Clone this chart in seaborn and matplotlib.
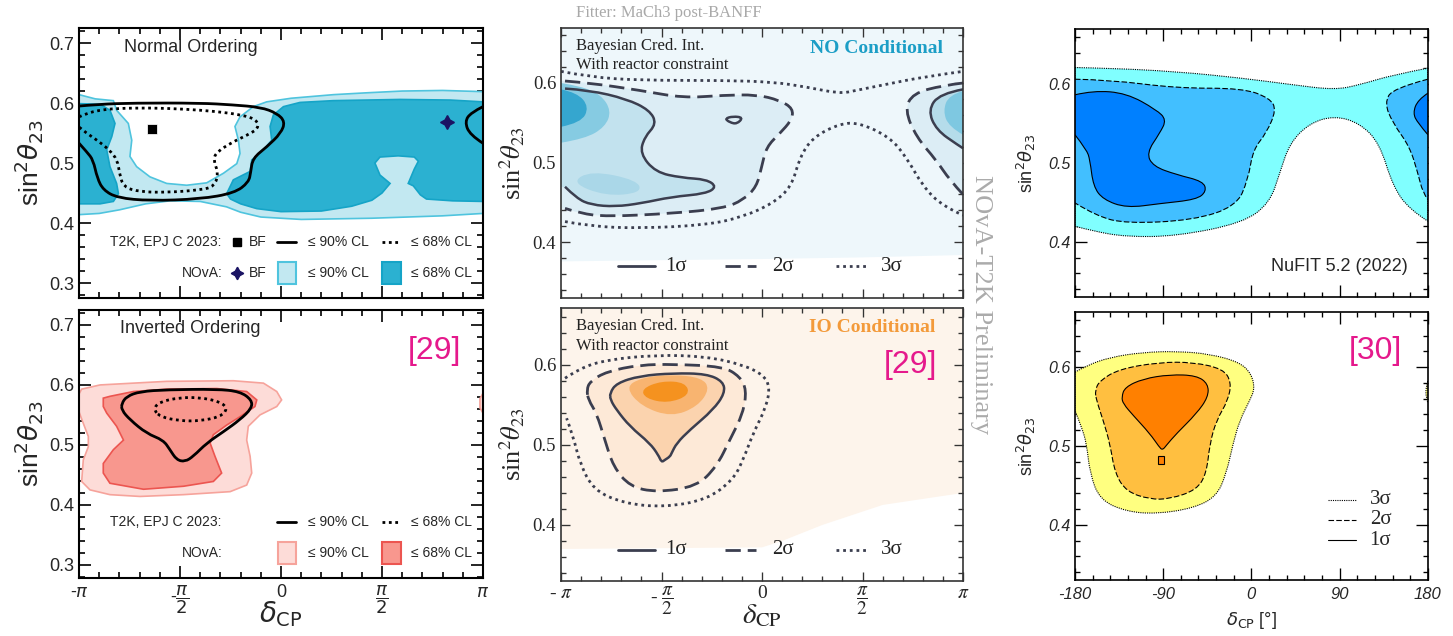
import numpy as np
import matplotlib
matplotlib.use("Agg")
import matplotlib.pyplot as plt
from matplotlib.path import Path
from matplotlib.patches import PathPatch, Polygon, Rectangle
from matplotlib.ticker import MultipleLocator
import seaborn as sns

# ---------------- data ----------------
# left column: delta_CP in units of pi, sin^2 theta_23
# NO, NOvA 90% region (the white hole is open to the top)
no_nova90 = [(-1.0, 0.614), (-0.92, 0.607), (-0.83, 0.604), (-0.814, 0.588), (-0.756, 0.566),
             (-0.739, 0.538), (-0.748, 0.511), (-0.715, 0.494), (-0.649, 0.477), (-0.566, 0.466),
             (-0.467, 0.463), (-0.368, 0.467), (-0.285, 0.483), (-0.219, 0.499), (-0.203, 0.516),
             (-0.211, 0.538), (-0.228, 0.561), (-0.203, 0.577), (-0.137, 0.594), (-0.071, 0.602),
             (0.05, 0.608), (0.26, 0.614), (0.42, 0.617), (0.6, 0.62), (0.8, 0.621), (1.0, 0.619),
             (1.0, 0.416), (0.8, 0.412), (0.45, 0.408), (0.1, 0.406), (-0.1, 0.41), (-0.2, 0.418),
             (-0.27, 0.427), (-0.4, 0.436), (-0.55, 0.437), (-0.67, 0.432), (-0.8, 0.422),
             (-0.9, 0.416), (-1.0, 0.414)]
no_nova68_left = [(-1.0, 0.599), (-0.896, 0.598), (-0.847, 0.588), (-0.822, 0.566), (-0.838, 0.544),
                  (-0.863, 0.522), (-0.847, 0.494), (-0.814, 0.466), (-0.805, 0.449), (-0.83, 0.436),
                  (-0.896, 0.432), (-1.0, 0.432)]
no_nova68_right = [(-0.269, 0.449), (-0.236, 0.472), (-0.153, 0.486), (-0.145, 0.505), (-0.087, 0.522),
                   (-0.046, 0.538), (-0.054, 0.561), (-0.038, 0.58), (0.012, 0.594), (0.094, 0.601),
                   (0.259, 0.604), (0.589, 0.606), (0.837, 0.605), (1.0, 0.602), (1.0, 0.436),
                   (0.85, 0.437), (0.72, 0.44), (0.69, 0.447), (0.655, 0.462), (0.63, 0.466),
                   (0.66, 0.49), (0.68, 0.503), (0.66, 0.51), (0.58, 0.512), (0.49, 0.51),
                   (0.465, 0.5), (0.49, 0.48), (0.54, 0.466), (0.5, 0.45), (0.45, 0.438),
                   (0.35, 0.428), (0.2, 0.42), (0.0, 0.419), (-0.12, 0.424), (-0.2, 0.432), (-0.25, 0.44)]
no_t2k90 = [(-1.0, 0.595), (-0.9, 0.598), (-0.73, 0.6), (-0.4, 0.6), (-0.24, 0.597), (-0.10, 0.593),
            (-0.02, 0.583), (0.02, 0.569), (0.0, 0.55), (-0.07, 0.527), (-0.14, 0.508), (-0.15, 0.485),
            (-0.16, 0.468), (-0.23, 0.45), (-0.4, 0.44), (-0.65, 0.437), (-0.81, 0.442), (-0.88, 0.455),
            (-0.91, 0.475), (-0.93, 0.505), (-0.96, 0.518), (-1.0, 0.533)]
no_t2k90_wrap = [(1.0, 0.594), (0.94, 0.584), (0.91, 0.569), (0.935, 0.547), (1.0, 0.533)]
no_t2k68 = [(-1.0, 0.577), (-0.96, 0.583), (-0.9, 0.588), (-0.82, 0.591), (-0.65, 0.592), (-0.48, 0.59),
            (-0.32, 0.586), (-0.19, 0.58), (-0.12, 0.572), (-0.11, 0.558), (-0.17, 0.546), (-0.24, 0.535),
            (-0.32, 0.518), (-0.335, 0.505), (-0.31, 0.483), (-0.33, 0.461), (-0.4, 0.455), (-0.566, 0.451),
            (-0.7, 0.452), (-0.78, 0.46), (-0.8, 0.483), (-0.81, 0.505), (-0.85, 0.522), (-0.91, 0.538),
            (-0.96, 0.549), (-1.0, 0.56)]
t2k_bf = (-0.637, 0.556)
nova_bf = (0.82, 0.568)

# IO, left column
io_nova90 = [(-1.0, 0.585), (-0.987, 0.593), (-0.896, 0.6), (-0.566, 0.606), (-0.236, 0.607),
             (-0.087, 0.603), (-0.021, 0.589), (0.003, 0.575), (-0.021, 0.564), (-0.104, 0.55),
             (-0.162, 0.531), (-0.17, 0.508), (-0.153, 0.481), (-0.145, 0.453), (-0.17, 0.433),
             (-0.252, 0.422), (-0.483, 0.417), (-0.698, 0.414), (-0.847, 0.417), (-0.946, 0.425),
             (-0.987, 0.439), (-0.979, 0.475), (-0.954, 0.497), (-0.954, 0.514), (-0.979, 0.536),
             (-1.0, 0.555)]
io_nova90_wrap = [(1.0, 0.586), (0.985, 0.577), (0.985, 0.562), (1.0, 0.553)]
io_nova68 = [(-0.88, 0.578), (-0.847, 0.581), (-0.731, 0.589), (-0.566, 0.593), (-0.318, 0.594),
             (-0.17, 0.589), (-0.12, 0.575), (-0.129, 0.564), (-0.203, 0.547), (-0.269, 0.533),
             (-0.335, 0.517), (-0.351, 0.503), (-0.327, 0.481), (-0.294, 0.453), (-0.335, 0.439),
             (-0.483, 0.431), (-0.681, 0.426), (-0.847, 0.436), (-0.88, 0.453), (-0.88, 0.469),
             (-0.83, 0.492), (-0.78, 0.508), (-0.814, 0.531), (-0.863, 0.553), (-0.88, 0.564)]
io_t2k90 = [(-0.789, 0.569), (-0.764, 0.581), (-0.698, 0.589), (-0.566, 0.592), (-0.318, 0.593),
            (-0.203, 0.589), (-0.145, 0.575), (-0.145, 0.561), (-0.203, 0.542), (-0.285, 0.522),
            (-0.368, 0.503), (-0.434, 0.481), (-0.475, 0.472), (-0.517, 0.475), (-0.55, 0.492),
            (-0.583, 0.508), (-0.665, 0.519), (-0.748, 0.542), (-0.789, 0.558)]
io_t2k68 = [(-0.632, 0.56), (-0.6, 0.572), (-0.5, 0.579), (-0.4, 0.579), (-0.3, 0.572), (-0.264, 0.56),
            (-0.3, 0.547), (-0.4, 0.54), (-0.5, 0.54), (-0.6, 0.547)]

# middle column (joint fit), delta_CP in units of pi
mno_3s_top = [(-1.0, 0.6146), (-0.856, 0.6075), (-0.607, 0.6033), (-0.193, 0.6033), (0.055, 0.6013),
              (0.221, 0.595), (0.387, 0.5866), (0.47, 0.5908), (0.635, 0.5992), (0.801, 0.6075),
              (1.0, 0.6146)]
mno_3s_bot = [(-0.98, 0.426), (-0.856, 0.42), (-0.607, 0.4175), (-0.276, 0.4217), (-0.094, 0.432),
              (0.055, 0.449), (0.147, 0.47), (0.188, 0.507), (0.254, 0.532), (0.387, 0.549),
              (0.486, 0.55), (0.635, 0.532), (0.718, 0.507), (0.801, 0.47), (0.9, 0.445), (1.0, 0.434)]
mno_2s = [(-0.98, 0.6025), (-0.856, 0.6), (-0.607, 0.5908), (-0.392, 0.5812), (-0.193, 0.5846),
          (-0.027, 0.5854), (0.088, 0.5783), (0.155, 0.5678), (0.147, 0.5532), (0.088, 0.5366),
          (0.022, 0.5198), (-0.002, 0.4946), (-0.027, 0.4697), (-0.094, 0.453), (-0.193, 0.4426),
          (-0.442, 0.4363), (-0.773, 0.4322), (-0.905, 0.4363), (-0.98, 0.4426)]
mno_2s_right = [(1.0, 0.6), (0.9, 0.597), (0.75, 0.587), (0.71, 0.566), (0.768, 0.532), (0.867, 0.503),
                (0.934, 0.478), (1.0, 0.46)]
mno_1s = [(-0.98, 0.593), (-0.86, 0.591), (-0.674, 0.58), (-0.56, 0.566), (-0.524, 0.549),
          (-0.585, 0.532), (-0.607, 0.5115), (-0.53, 0.488), (-0.40, 0.481), (-0.276, 0.479),
          (-0.225, 0.4697), (-0.28, 0.461), (-0.45, 0.457), (-0.6, 0.449), (-0.73, 0.4447),
          (-0.85, 0.447), (-0.922, 0.4551), (-0.98, 0.4697)]
mno_1s_island = [(-0.185, 0.5553), (-0.144, 0.5582), (-0.094, 0.5566), (-0.125, 0.5485), (-0.16, 0.5505)]
mno_1s_right = [(1.0, 0.592), (0.884, 0.5866), (0.826, 0.566), (0.867, 0.541), (0.975, 0.522), (1.0, 0.518)]
# posterior shading levels (lightest -> darkest)
mno_bg = [(-1.0, 0.67), (1.0, 0.67), (1.0, 0.384), (0.5, 0.381), (0.0, 0.379), (-1.0, 0.376)]
mno_core = [(-1.0, 0.6), (-0.9, 0.596), (-0.8, 0.585), (-0.75, 0.565), (-0.78, 0.545), (-0.88, 0.53), (-1.0, 0.525)]
mno_peak = [(-1.0, 0.592), (-0.92, 0.588), (-0.86, 0.57), (-0.9, 0.55), (-1.0, 0.545)]
mno_core_r = [(1.0, 0.59), (0.93, 0.585), (0.9, 0.565), (0.93, 0.545), (1.0, 0.535)]
mno_low = [(-0.95, 0.475), (-0.78, 0.458), (-0.6, 0.462), (-0.62, 0.478), (-0.85, 0.49)]

mio_3s = [(-0.98, 0.5833), (-0.906, 0.5958), (-0.773, 0.6063), (-0.524, 0.6125), (-0.276, 0.6104),
          (-0.094, 0.6), (0.006, 0.5875), (0.039, 0.5729), (0.022, 0.5479), (-0.044, 0.5146),
          (-0.094, 0.4813), (-0.144, 0.4563), (-0.276, 0.4313), (-0.491, 0.4221), (-0.69, 0.4271),
          (-0.839, 0.4438), (-0.906, 0.4771), (-0.939, 0.5104), (-0.972, 0.5333)]
mio_2s = [(-0.872, 0.5688), (-0.856, 0.5792), (-0.773, 0.5917), (-0.607, 0.6), (-0.442, 0.6008),
          (-0.193, 0.5979), (-0.11, 0.5854), (-0.077, 0.5688), (-0.094, 0.5396), (-0.16, 0.5063),
          (-0.226, 0.4729), (-0.326, 0.4479), (-0.524, 0.4408), (-0.657, 0.4479), (-0.74, 0.4729),
          (-0.782, 0.5063), (-0.823, 0.5396), (-0.864, 0.5563)]
mio_1s = [(-0.757, 0.5646), (-0.724, 0.5771), (-0.607, 0.5863), (-0.442, 0.5896), (-0.276, 0.5888),
          (-0.193, 0.5792), (-0.185, 0.5646), (-0.243, 0.5438), (-0.359, 0.5188), (-0.425, 0.5021),
          (-0.45, 0.4896), (-0.458, 0.4854), (-0.483, 0.4813), (-0.5, 0.4783), (-0.516, 0.4875),
          (-0.558, 0.5021), (-0.657, 0.5229), (-0.724, 0.5438), (-0.754, 0.5563)]
mio_bg = [(-1.0, 0.67), (1.0, 0.67), (1.0, 0.44), (0.6, 0.425), (0.3, 0.4), (0.1, 0.38), (0.0, 0.372), (-1.0, 0.37)]
mio_core = [(-0.68, 0.572), (-0.6, 0.584), (-0.45, 0.588), (-0.3, 0.584), (-0.26, 0.57), (-0.32, 0.548),
            (-0.45, 0.535), (-0.6, 0.548)]
mio_peak = [(-0.6, 0.57), (-0.5, 0.58), (-0.38, 0.578), (-0.36, 0.562), (-0.47, 0.552), (-0.58, 0.558)]

# right column (NuFIT), delta_CP in degrees
rno_3s = [(-180, 0.6211), (-144.3, 0.6203), (-76.4, 0.616), (-8.5, 0.6076), (42.4, 0.5992), (84.9, 0.5928),
          (110.4, 0.5992), (144.3, 0.6118), (180, 0.6203), (180, 0.4262), (161.3, 0.4409), (144.3, 0.4705),
          (130.7, 0.5253), (110.4, 0.5506), (84.9, 0.5599), (59.4, 0.5506), (39.1, 0.5253), (28.9, 0.4873),
          (18.7, 0.4494), (-8.5, 0.424), (-76.4, 0.4072), (-127.4, 0.4063), (-161.3, 0.4135), (-180, 0.4198)]
rno_2s = [(-180, 0.6063), (-144.3, 0.6055), (-76.4, 0.5949), (-8.5, 0.5949), (18.7, 0.5823), (25.5, 0.5675),
          (15.3, 0.538), (1.7, 0.5169), (-3.4, 0.4789), (-15.3, 0.4451), (-59.4, 0.4274), (-127.4, 0.4232),
          (-158.0, 0.4325), (-180, 0.4494)]
rno_2s_right = [(180, 0.6063), (144.3, 0.5949), (135.8, 0.576), (144.3, 0.5506), (161.3, 0.5211),
                (169.8, 0.4873), (174.9, 0.462), (180, 0.4536)]
rno_1s = [(-180, 0.5865), (-161.3, 0.592), (-127.4, 0.5886), (-96.8, 0.5675), (-86.6, 0.5549),
          (-93.4, 0.538), (-107, 0.5127), (-100.2, 0.4958), (-76.4, 0.4852), (-49.2, 0.4768),
          (-45.8, 0.4641), (-56, 0.4536), (-93.4, 0.4485), (-127.4, 0.443), (-151.2, 0.4536),
          (-161.3, 0.4705), (-164.7, 0.5042), (-168.1, 0.5169), (-180, 0.5359)]
rno_1s_right = [(180, 0.5886), (169.8, 0.5802), (164.7, 0.5633), (169.8, 0.5506), (180, 0.5359)]

rio_3s = [(-180, 0.5937), (-168.1, 0.6021), (-144.3, 0.6126), (-110.4, 0.6189), (-76.4, 0.6202),
          (-42.4, 0.6168), (-11.9, 0.6063), (0.0, 0.5916), (3.4, 0.5726), (-1.7, 0.5579), (-11.9, 0.5326),
          (-18.7, 0.5032), (-25.5, 0.4653), (-35.7, 0.4358), (-59.4, 0.4211), (-96.8, 0.4139),
          (-127.4, 0.4168), (-154.6, 0.4316), (-164.7, 0.4653), (-168.1, 0.5032), (-173.2, 0.5242),
          (-180, 0.5453)]
rio_3s_wrap = [(180, 0.582), (178, 0.575), (178, 0.562), (180, 0.555)]
rio_2s = [(-159.6, 0.5705), (-154.6, 0.5832), (-134.2, 0.5979), (-93.4, 0.6063), (-59.4, 0.6063),
          (-28.9, 0.5979), (-20.4, 0.5811), (-23.8, 0.5579), (-35.7, 0.5326), (-42.4, 0.5032),
          (-45.8, 0.4653), (-56, 0.4442), (-83.2, 0.4328), (-103.6, 0.4324), (-127.4, 0.4421),
          (-139.2, 0.4653), (-144.3, 0.5032), (-151.2, 0.5326), (-158.0, 0.5579)]
rio_1s = [(-132.4, 0.5621), (-129, 0.5747), (-110.4, 0.5853), (-83.2, 0.5907), (-56, 0.5895),
          (-44.1, 0.5789), (-44.1, 0.5621), (-56, 0.5411), (-76.4, 0.5158), (-86.6, 0.5011),
          (-90.7, 0.4947), (-94.1, 0.4989), (-103.6, 0.5158), (-120.6, 0.5389), (-130.8, 0.5537)]
rio_1s_box = [(-95.1, 0.4872), (-89.3, 0.4872), (-89.3, 0.4766), (-95.1, 0.4766)]

pi_ticks = [-1, -0.5, 0, 0.5, 1]
deg_ticks = [-180, -90, 0, 90, 180]

MAGENTA = "#e5198c"
SANS = ["Liberation Sans", "DejaVu Sans"]
SERIF = ["Liberation Serif", "DejaVu Serif"]


def curve(pts, closed=True, edge=1.0):
    """quadratic-bezier path through the read points; points on the frame stay sharp"""
    p = np.asarray(pts, float)
    sharp = np.isclose(np.abs(p[:, 0]), edge)
    if not closed:
        sharp[0] = sharp[-1] = True
    elif sharp.any():
        k = np.flatnonzero(sharp)[0]
        p = np.roll(p, -k, axis=0)
        sharp = np.roll(sharp, -k)
        p = np.vstack([p, p[:1]])
        sharp = np.append(sharp, True)
    else:
        n = len(p)
        verts = [(p[-1] + p[0]) / 2]
        codes = [Path.MOVETO]
        for i in range(n):
            verts += [p[i], (p[i] + p[(i + 1) % n]) / 2]
            codes += [Path.CURVE3, Path.CURVE3]
        return Path(verts, codes)
    verts = [p[0]]
    codes = [Path.MOVETO]
    for i in range(1, len(p)):
        if sharp[i]:
            verts.append(p[i])
            codes.append(Path.LINETO)
        else:
            end = p[i + 1] if sharp[i + 1] else (p[i] + p[i + 1]) / 2
            verts += [p[i], end]
            codes += [Path.CURVE3, Path.CURVE3]
    return Path(verts, codes)


def add_curve(ax, pts, closed=True, edge=1.0, **kw):
    if "facecolor" not in kw:
        kw["fill"] = False
    ax.add_patch(PathPatch(curve(pts, closed, edge), **kw))


def frame(ax, xlim, ylim, xmaj, xmin_, ymaj, ymin_, lmaj, lmin, lw, color="black"):
    ax.set_xlim(*xlim)
    ax.set_ylim(*ylim)
    ax.set_xticks(xmaj)
    ax.xaxis.set_minor_locator(MultipleLocator(xmin_))
    ax.set_yticks(ymaj)
    ax.yaxis.set_minor_locator(MultipleLocator(ymin_))
    ax.tick_params(which="both", direction="in", top=True, right=True, width=lw * 0.8, color=color)
    ax.tick_params(which="major", length=lmaj)
    ax.tick_params(which="minor", length=lmin)
    for sp in ax.spines.values():
        sp.set_linewidth(lw)
        sp.set_color(color)
    ax.set_facecolor("white")


sns.set_theme(style="ticks")
plt.rcParams["font.family"] = SANS

fig = plt.figure(figsize=(14.53, 6.36), dpi=100)
axL1 = fig.add_axes([0.0544, 0.5314, 0.278, 0.4245])
axL2 = fig.add_axes([0.0544, 0.0912, 0.278, 0.4214])
axM1 = fig.add_axes([0.3861, 0.5314, 0.2767, 0.4245])
axM2 = fig.add_axes([0.3861, 0.0865, 0.2767, 0.4292])
axR1 = fig.add_axes([0.7398, 0.533, 0.2429, 0.4214])
axR2 = fig.add_axes([0.7398, 0.088, 0.2429, 0.4214])

# ---------------- left column ----------------
NO_LIGHT, NO_LIGHT_E, NO_DARK, NO_DARK_E = "#c2e8f1", "#4fc4de", "#2bb1d1", "#15a4c7"
IO_LIGHT, IO_LIGHT_E, IO_DARK, IO_DARK_E = "#fddcd8", "#f6a39b", "#f8978e", "#ec5550"

for ax, ylim in ((axL1, (0.275, 0.725)), (axL2, (0.278, 0.725))):
    frame(ax, (-1, 1), ylim, pi_ticks, 0.1, [0.3, 0.4, 0.5, 0.6, 0.7], 0.02, 8.5, 4.3, 1.5)
    ax.set_yticklabels(["0.3", "0.4", "0.5", "0.6", "0.7"], fontsize=13)
    ax.set_ylabel(r"sin$^2\theta_{23}$", fontsize=19)
    ax.yaxis.set_label_coords(-0.085, 0.5)
axL1.set_xticklabels([])

ax = axL1
ax.add_patch(Polygon(no_nova90, closed=True, fc=NO_LIGHT, ec=NO_LIGHT_E, lw=1.2))
for poly in (no_nova68_left, no_nova68_right):
    ax.add_patch(Polygon(poly, closed=True, fc=NO_DARK, ec=NO_DARK_E, lw=1.2))
add_curve(ax, no_t2k90, closed=False, ec="black", lw=2.0)
add_curve(ax, no_t2k90_wrap, closed=False, ec="black", lw=2.0)
add_curve(ax, no_t2k68, closed=False, ec="black", lw=2.0, ls=(0, (1.0, 1.3)))
sns.scatterplot(x=[t2k_bf[0]], y=[t2k_bf[1]], marker="s", s=45, color="black", ax=ax, zorder=5)
ax.plot([nova_bf[0]], [nova_bf[1]], marker=(4, 1, 0), ms=10, color="#1b1464", zorder=5)
ax.text(0.111, 0.928, "Normal Ordering", transform=ax.transAxes, fontsize=13, va="center")

ax = axL2
ax.add_patch(Polygon(io_nova90, closed=True, fc=IO_LIGHT, ec=IO_LIGHT_E, lw=1.2))
ax.add_patch(Polygon(io_nova90_wrap, closed=True, fc=IO_LIGHT, ec=IO_LIGHT_E, lw=1.2))
ax.add_patch(Polygon(io_nova68, closed=True, fc=IO_DARK, ec=IO_DARK_E, lw=1.2))
add_curve(ax, io_t2k90, ec="black", lw=2.0)
add_curve(ax, io_t2k68, ec="black", lw=2.0, ls=(0, (1.0, 1.3)))
ax.text(0.102, 0.93, "Inverted Ordering", transform=ax.transAxes, fontsize=13, va="center")
ax.text(0.879, 0.848, "[29]", transform=ax.transAxes, fontsize=23, color=MAGENTA, ha="center", va="center")
ax.set_xticklabels([r"-$\pi$", r"-$\dfrac{\pi}{2}$", "0", r"$\dfrac{\pi}{2}$", r"$\pi$"], fontsize=13)
ax.tick_params(axis="x", pad=4)
ax.set_xlabel(r"$\delta_{\rm CP}$", fontsize=20)
ax.xaxis.set_label_coords(0.5, -0.08)

# legends of the left panels
for ax, light, light_e, dark, dark_e, with_bf in ((axL1, NO_LIGHT, NO_LIGHT_E, NO_DARK, NO_DARK_E, True),
                                                    (axL2, IO_LIGHT, IO_LIGHT_E, IO_DARK, IO_DARK_E, False)):
    r1, r2 = 0.209, 0.093
    ax.text(0.352, r1, "T2K, EPJ C 2023:", transform=ax.transAxes, ha="right", va="center", fontsize=10)
    ax.text(0.355, r2, "NOvA:", transform=ax.transAxes, ha="right", va="center", fontsize=10)
    if with_bf:
        ax.plot([0.391], [r1], marker="s", ms=6, color="black", transform=ax.transAxes)
        ax.plot([0.392], [r2], marker=(4, 1, 0), ms=9, color="#1b1464", transform=ax.transAxes)
        ax.text(0.421, r1, "BF", transform=ax.transAxes, va="center", fontsize=10)
        ax.text(0.421, r2, "BF", transform=ax.transAxes, va="center", fontsize=10)
    ax.plot([0.49, 0.537], [r1, r1], color="black", lw=2.0, transform=ax.transAxes)
    ax.plot([0.751, 0.794], [r1, r1], color="black", lw=2.0, ls=(0, (1.0, 1.3)), transform=ax.transAxes)
    ax.add_patch(Rectangle((0.493, r2 - 0.04), 0.045, 0.08, transform=ax.transAxes, fc=light, ec=light_e, lw=1.5))
    ax.add_patch(Rectangle((0.751, r2 - 0.04), 0.045, 0.08, transform=ax.transAxes, fc=dark, ec=dark_e, lw=1.5))
    for r in (r1, r2):
        ax.text(0.567, r, "≤ 90% CL", transform=ax.transAxes, va="center", fontsize=10)
        ax.text(0.823, r, "≤ 68% CL", transform=ax.transAxes, va="center", fontsize=10)

# ---------------- middle column ----------------
LINE = "#3b3e4f"
DASH = (0, (5.5, 2.5))
DOT = (0, (1.0, 1.4))
for ax, ylim in ((axM1, (0.33, 0.669)), (axM2, (0.33, 0.671))):
    frame(ax, (-1, 1), ylim, pi_ticks, 0.1, [0.4, 0.5, 0.6], 0.02, 6.5, 3.6, 1.2, color="#333333")
    ax.set_yticklabels(["0.4", "0.5", "0.6"], fontsize=13.5, family=SERIF)
    ax.set_ylabel(r"sin$^2\theta_{23}$", fontsize=19, family=SERIF, math_fontfamily="stix")
    ax.yaxis.set_label_coords(-0.085, 0.5)
    ax.text(0.037, 0.933, "Bayesian Cred. Int.", transform=ax.transAxes, fontsize=12, family=SERIF,
            va="center", color="#222222")
    ax.text(0.037, 0.862, "With reactor constraint", transform=ax.transAxes, fontsize=12, family=SERIF,
            va="center", color="#222222")
    ly = 0.118 if ax is axM1 else 0.115
    ax.plot([0.143, 0.234], [ly, ly], color=LINE, lw=2.0, transform=ax.transAxes)
    ax.plot([0.408, 0.486], [ly, ly], color=LINE, lw=2.0, ls=DASH, transform=ax.transAxes)
    ax.plot([0.685, 0.764], [ly, ly], color=LINE, lw=2.0, ls=DOT, transform=ax.transAxes)
    for xl, lab in ((0.258, "1σ"), (0.524, "2σ"), (0.797, "3σ")):
        ax.text(xl, ly, lab, transform=ax.transAxes, fontsize=15, family=SERIF, va="center", color="#222222")
axM1.set_xticklabels([])

ax = axM1
ax.add_patch(Polygon(mno_bg, closed=True, fc="#eef7fb", ec="none", zorder=0.5))
add_curve(ax, [(-1.0, 0.6025)] + mno_2s + [(-1.0, 0.4426)], facecolor="#dcedf5", ec="none", zorder=0.6)
add_curve(ax, mno_2s_right, facecolor="#dcedf5", ec="none", zorder=0.6)
add_curve(ax, [(-1.0, 0.593)] + mno_1s + [(-1.0, 0.4697)], facecolor="#c2e2ee", ec="none", zorder=0.7)
add_curve(ax, mno_1s_right, facecolor="#b5dcea", ec="none", zorder=0.7)
add_curve(ax, mno_low, facecolor="#aad7e8", ec="none", zorder=0.8)
add_curve(ax, mno_core, facecolor="#86cbe2", ec="none", zorder=0.8)
add_curve(ax, mno_core_r, facecolor="#7ec8e1", ec="none", zorder=0.8)
add_curve(ax, mno_peak, facecolor="#35a6cf", ec="none", zorder=0.9)
add_curve(ax, mno_3s_top, closed=False, ec=LINE, lw=2.0, ls=DOT)
add_curve(ax, mno_3s_bot, closed=False, ec=LINE, lw=2.0, ls=DOT)
add_curve(ax, mno_2s, closed=False, ec=LINE, lw=2.0, ls=DASH)
add_curve(ax, mno_2s_right, closed=False, ec=LINE, lw=2.0, ls=DASH)
add_curve(ax, mno_1s, closed=False, ec=LINE, lw=1.8)
add_curve(ax, mno_1s_right, closed=False, ec=LINE, lw=1.8)
add_curve(ax, mno_1s_island, ec=LINE, lw=1.8)
ax.text(0.95, 0.925, "NO Conditional", transform=ax.transAxes, fontsize=14, family=SERIF,
        weight="bold", color="#1c9ec6", ha="right", va="center")

ax = axM2
ax.add_patch(Polygon(mio_bg, closed=True, fc="#fdf4eb", ec="none", zorder=0.5))
add_curve(ax, mio_2s, facecolor="#fde9d7", ec="none", zorder=0.6)
add_curve(ax, mio_1s, facecolor="#fbd3ae", ec="none", zorder=0.7)
add_curve(ax, mio_core, facecolor="#f8b470", ec="none", zorder=0.8)
add_curve(ax, mio_peak, facecolor="#f5921f", ec="none", zorder=0.9)
add_curve(ax, mio_3s, closed=False, ec=LINE, lw=2.0, ls=DOT)
add_curve(ax, mio_2s, ec=LINE, lw=2.0, ls=DASH)
add_curve(ax, mio_1s, ec=LINE, lw=1.8)
ax.text(0.93, 0.93, "IO Conditional", transform=ax.transAxes, fontsize=14, family=SERIF,
        weight="bold", color="#f39a3a", ha="right", va="center")
ax.text(0.868, 0.79, "[29]", transform=ax.transAxes, fontsize=23, color=MAGENTA, ha="center", va="center")
ax.set_xticklabels([r"- $\pi$", r"- $\dfrac{\pi}{2}$", "0", r"$\dfrac{\pi}{2}$", r"$\pi$"],
                   fontsize=14, family=SERIF, math_fontfamily="stix")
ax.tick_params(axis="x", pad=3)
ax.set_xlabel(r"$\delta_{\rm CP}$", fontsize=21, math_fontfamily="stix")
ax.xaxis.set_label_coords(0.5, -0.075)

fig.text(576 / 1453, 1 - 13 / 636, "Fitter: MaCh3 post-BANFF", ha="left", va="center",
         color="#a9a9a9", family=SERIF, fontsize=12)
fig.text(981 / 1453, 1 - 305 / 636, "NOvA-T2K Preliminary", rotation=-90, ha="center", va="center",
         color="#ababab", family=SERIF, fontsize=19)

# ---------------- right column ----------------
for ax in (axR1, axR2):
    frame(ax, (-180, 180), (0.33, 0.67), deg_ticks, 18, [0.4, 0.5, 0.6], 0.02, 8.6, 3.6, 1.2)
    ax.set_yticklabels(["0.4", "0.5", "0.6"], fontsize=11.5, style="italic")
    ax.set_ylabel(r"sin$^2\theta_{23}$", fontsize=13)
    ax.yaxis.set_label_coords(-0.105, 0.5)
axR1.set_xticklabels([])

ax = axR1
add_curve(ax, rno_3s, edge=180, facecolor="#80ffff", ec="black", lw=0.8, ls=(0, (1, 1)))
add_curve(ax, rno_2s, closed=False, edge=180, facecolor="#42bfff", ec="none")
add_curve(ax, rno_2s_right, closed=False, edge=180, facecolor="#42bfff", ec="none")
add_curve(ax, rno_2s, closed=False, edge=180, ec="black", lw=0.8, ls=(0, (5, 2)))
add_curve(ax, rno_2s_right, closed=False, edge=180, ec="black", lw=0.8, ls=(0, (5, 2)))
add_curve(ax, rno_1s, closed=False, edge=180, facecolor="#0080ff", ec="none")
add_curve(ax, rno_1s_right, closed=False, edge=180, facecolor="#0080ff", ec="none")
add_curve(ax, rno_1s, closed=False, edge=180, ec="black", lw=0.8)
add_curve(ax, rno_1s_right, closed=False, edge=180, ec="black", lw=0.8)
ax.text(0.943, 0.115, "NuFIT 5.2 (2022)", transform=ax.transAxes, fontsize=13, ha="right", va="center")

ax = axR2
add_curve(ax, rio_3s, edge=180, facecolor="#ffff80", ec="black", lw=0.8, ls=(0, (1, 1)))
add_curve(ax, rio_3s_wrap, edge=180, facecolor="#ffff80", ec="black", lw=0.8, ls=(0, (1, 1)))
add_curve(ax, rio_2s, edge=180, facecolor="#ffbf40", ec="black", lw=0.8, ls=(0, (5, 2)))
add_curve(ax, rio_1s, edge=180, facecolor="#ff8000", ec="black", lw=0.8)
ax.add_patch(Polygon(rio_1s_box, closed=True, fc="#ff8000", ec="black", lw=0.8))
ax.text(0.851, 0.856, "[30]", transform=ax.transAxes, fontsize=23, color=MAGENTA, ha="center", va="center")
for yy, ls, lab in ((0.299, (0, (1, 1)), "3σ"), (0.224, (0, (5, 2)), "2σ"), (0.148, "-", "1σ")):
    ax.plot([0.717, 0.797], [yy, yy], color="black", lw=0.8, ls=ls, transform=ax.transAxes)
    ax.text(0.835, yy, lab, transform=ax.transAxes, fontsize=15, family=SERIF, va="center")
ax.set_xticklabels(["-180", "-90", "0", "90", "180"], fontsize=12, style="italic")
ax.tick_params(axis="x", pad=5)
ax.set_xlabel(r"$\delta_{\rm CP}$ [°]", fontsize=13)
ax.xaxis.set_label_coords(0.5, -0.11)

fig.savefig("out.png", dpi=100)
